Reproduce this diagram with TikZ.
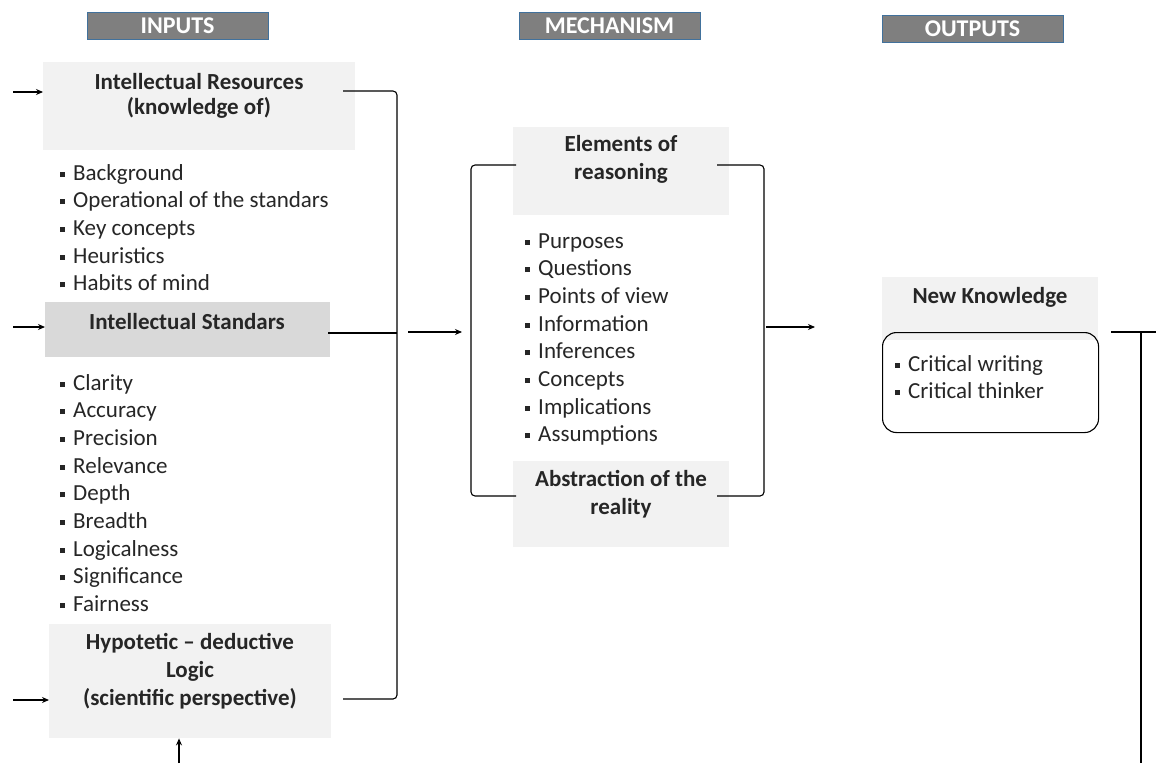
\documentclass[tikz,border=0pt]{standalone}
\usepackage{fontspec}
\setmainfont{Carlito}
\usetikzlibrary{arrows.meta,calc}
\definecolor{hdrgray}{HTML}{7F7F7F}
\definecolor{hdrblue}{HTML}{41719C}
\definecolor{lightbox}{HTML}{F2F2F2}
\definecolor{midbox}{HTML}{D9D9D9}
\newcommand{\bul}{\makebox[13pt][l]{\rule[3.5pt]{5pt}{5pt}}}
\begin{document}
\begin{tikzpicture}[x=1pt,y=-1pt,
  hdr/.style={draw=hdrblue, line width=1pt, fill=hdrgray, text=white,
    font=\fontsize{24}{26}\bfseries\selectfont, minimum width=181pt, minimum height=27pt, inner sep=0pt},
  boxfill/.style={anchor=north west, inner sep=0pt, draw=none},
  btext/.style={font=\fontsize{23}{28}\bfseries\selectfont, align=center, inner sep=0pt, text=black!85},
  lst/.style={font=\fontsize{23}{27.7}\selectfont, align=left, anchor=base west, inner sep=0pt, text=black!85},
  conn/.style={line width=1.1pt, rounded corners=4pt},
  arr/.style={line width=1.1pt, -{Stealth[length=7pt,width=6pt]}}
]
\useasboundingbox (0,0) rectangle (1156,763);

% headers
\node[hdr] (hin) at (177.5,25.5) {INPUTS};
\node[hdr] (hmech) at (609.5,25.5) {MECHANISM};
\node[hdr] (hout) at (972.5,28.5) {OUTPUTS};

% INPUTS column
\node[boxfill, fill=lightbox, minimum width=312pt, minimum height=88pt] (res) at (43,62) {};
\node[btext, font=\fontsize{23}{25}\bfseries\selectfont] (resT) at (199,96) {Intellectual Resources\\(knowledge of)};

% base west = baseline of the last line
\node[lst] (resL) at (60,290.8) {\bul Background\\\bul Operational of the standars\\\bul Key concepts\\\bul Heuristics\\\bul Habits of mind};

\node[boxfill, fill=midbox, minimum width=285pt, minimum height=55pt] (std) at (45,302) {};
\node[btext] (stdT) at (187,322) {Intellectual Standars};

\node[lst] (stdL) at (60,611.6) {\bul Clarity\\\bul Accuracy\\\bul Precision\\\bul Relevance\\\bul Depth\\\bul Breadth\\\bul Logicalness\\\bul Significance\\\bul Fairness};

\node[boxfill, fill=lightbox, minimum width=282pt, minimum height=114pt] (hyp) at (49,624) {};
\node[btext] (hypT) at (190,671) {Hypotetic -- deductive\\Logic\\(scientific perspective)};

% MECHANISM column
\node[boxfill, fill=lightbox, minimum width=216pt, minimum height=88pt] (elem) at (513,127) {};
\node[btext] (elemT) at (621,159) {Elements of\\reasoning};

\node[lst] (mechL) at (525,441.9) {\bul Purposes\\\bul Questions\\\bul Points of view\\\bul Information\\\bul Inferences\\\bul Concepts\\\bul Implications\\\bul Assumptions};

\node[boxfill, fill=lightbox, minimum width=216pt, minimum height=86pt] (abs) at (513,461) {};
\node[btext] (absT) at (621,494) {Abstraction of the\\reality};

% OUTPUTS column
\node[boxfill, fill=lightbox, minimum width=216pt, minimum height=63pt] (nk) at (882,277) {};
\node[btext] (nkT) at (990,297) {New Knowledge};
\node[anchor=north west, draw, line width=1.1pt, rounded corners=14pt, minimum width=216pt, minimum height=100pt, inner sep=0pt] (nkB) at (882,332) {};
\node[lst] (nkL) at (895,398.7) {\bul Critical writing\\\bul Critical thinker};

% coordinates for brackets
\coordinate (lb1) at (343,91);
\coordinate (lb2) at (397,91);
\coordinate (lb3) at (397,699);
\coordinate (lb4) at (343,699);
\coordinate (sOut) at (328,333);
\coordinate (sJ) at (397,333);
\coordinate (aS) at (408,332);
\coordinate (aE) at (462,332);

\coordinate (ml1) at (516,165);
\coordinate (ml2) at (471,165);
\coordinate (ml3) at (471,496);
\coordinate (ml4) at (516,496);
\coordinate (mr1) at (717,165);
\coordinate (mr2) at (764,165);
\coordinate (mr3) at (764,496);
\coordinate (mr4) at (717,496);
\coordinate (a2S) at (766,327);
\coordinate (a2E) at (815,327);

\coordinate (o1) at (1111,332);
\coordinate (o2) at (1156,332);
\coordinate (o3) at (1141,332);
\coordinate (o4) at (1141,763);

% input arrows
\coordinate (in1) at (13,92);
\coordinate (in2) at (13,327);
\coordinate (in3) at (13,700);
\coordinate (in4) at (179,763);
\draw[arr] (in1) -- (res.west |- in1);
\draw[arr] (in2) -- (std.west |- in2);
\draw[arr] (in3) -- (hyp.west |- in3);
\draw[arr] (in4) -- (hyp.south -| in4);

% brackets
\draw[conn] (lb1) -- (lb2) -- (lb3) -- (lb4);
\draw[line width=1.1pt] (sOut) -- (sJ);
\draw[arr] (aS) -- (aE);
\draw[conn] (ml1) -- (ml2) -- (ml3) -- (ml4);
\draw[conn] (mr1) -- (mr2) -- (mr3) -- (mr4);
\draw[arr] (a2S) -- (a2E);
\draw[line width=1.1pt] (o1) -- (o2);
\draw[line width=1.1pt] (o3) -- (o4);
\end{tikzpicture}
\end{document}
